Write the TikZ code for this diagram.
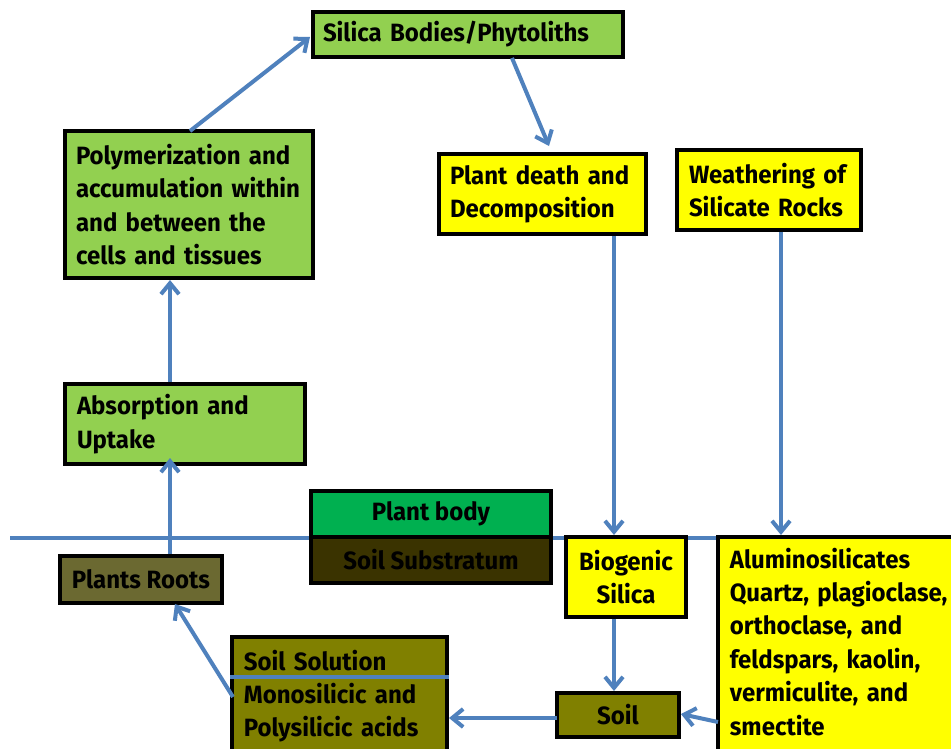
\documentclass[tikz,border=0pt]{standalone}
\usepackage{fontspec}
\setmainfont{Fira Sans}[FakeStretch=0.96]
\usetikzlibrary{arrows.meta}
\definecolor{lgreen}{HTML}{92D050}
\definecolor{dgreen}{HTML}{00B050}
\definecolor{yel}{HTML}{FFFF00}
\definecolor{olive}{HTML}{808000}
\definecolor{substr}{HTML}{3A3300}
\definecolor{roots}{HTML}{6B6931}
\definecolor{arr}{HTML}{4F81BD}
\tikzset{
  box/.style={draw=black, line width=3.8pt, rectangle, inner sep=0pt, font=\bfseries\fontsize{25}{33.4}\selectfont},
  conn/.style={draw=arr, line width=4pt, -{Straight Barb[length=11pt,width=18pt,line width=4pt]}},
  plainline/.style={draw=arr, line width=4.5pt},
}
\begin{document}
\begin{tikzpicture}[x=1pt,y=-1pt]
\useasboundingbox (0,0) rectangle (951,748);
\clip (0,0) rectangle (951,748);
\fill[white] (0,0) rectangle (951,748);
% ground line
\coordinate (gl) at (10,538);
\coordinate (gr) at (720,538);
\draw[plainline] (gl) -- (gr);
% boxes
\node[box, fill=lgreen, minimum width=310pt, minimum height=45pt, text width=290pt, align=left] (sil) at (468,34.5) {Silica Bodies/Phytoliths};
\node[box, fill=lgreen, minimum width=248pt, minimum height=147pt, text width=226pt, align=left] (poly) at (189,204.5) {Polymerization and\\accumulation within\\and between the\\cells and tissues};
\node[box, fill=yel, minimum width=207pt, minimum height=80pt, text width=185pt, align=left] (death) at (542.5,194) {Plant death and\\Decomposition};
\node[box, fill=yel, minimum width=184pt, minimum height=80pt, text width=160pt, align=left] (weath) at (769,190) {Weathering of\\Silicate Rocks};
\node[box, fill=lgreen, minimum width=240pt, minimum height=80pt, text width=216pt, align=left] (abs) at (185,424) {Absorption and\\Uptake};
\node[box, fill=dgreen, minimum width=240pt, minimum height=46pt, align=center] (body) at (431,514) {Plant body};
\node[box, fill=substr, minimum width=240pt, minimum height=46pt, align=center] (sub) at (431,560) {Soil Substratum};
\node[box, fill=roots, minimum width=162pt, minimum height=47pt, align=center] (roots) at (141,579.5) {Plants Roots};
\node[box, fill=olive, minimum width=215pt, minimum height=130pt] (sol) at (339.5,702) {};
\node[box, draw=none, fill=none, anchor=north west, text width=200pt, align=left] (soltxt) at (242,648) {Soil Solution\\Monosilicic and\\Polysilicic acids};
\coordinate (sl1) at (sol.west |- 0,677);
\coordinate (sl2) at (sol.east |- 0,677);
\draw[plainline] (sl1) -- (sl2);
\node[box, fill=yel, minimum width=120pt, minimum height=80pt, align=center] (bio) at (626,577) {Biogenic\\Silica};
\node[box, fill=olive, minimum width=122pt, minimum height=44pt, align=center] (soil) at (618,715) {Soil};
\node[box, fill=yel, minimum width=250pt, minimum height=240pt] (alum) at (843,657) {};
\node[box, draw=none, fill=none, anchor=north west, text width=230pt, align=left] (alumtxt) at (728,546) {Aluminosilicates\\Quartz, plagioclase,\\orthoclase, and\\feldspars, kaolin,\\vermiculite, and\\smectite};
% connectors
\coordinate (p1) at (190,131);
\coordinate (p2) at (310,37);
\draw[conn] (p1) -- (p2);
\coordinate (s1) at (512,58);
\coordinate (s2) at (549,146);
\draw[conn] (s1) -- (s2);
\draw[conn] (death.south -| 614,0) -- (614,535);
\draw[conn] (weath.south -| 781,0) -- (781,535);
\draw[conn] (abs.north -| 170,0) -- (170,280);
\draw[conn] (roots.north -| 170,0) -- (170,458);
\coordinate (q1) at (233,697);
\coordinate (q2) at (175,604);
\draw[conn] (q1) -- (q2);
\draw[conn] (bio.south -| 614,0) -- (614,691);
\coordinate (a1) at (718,722);
\coordinate (a2) at (681,714);
\draw[conn] (a1) -- (a2);
\coordinate (b1) at (557,718);
\coordinate (b2) at (449,718);
\draw[conn] (b1) -- (b2);
\end{tikzpicture}
\end{document}
